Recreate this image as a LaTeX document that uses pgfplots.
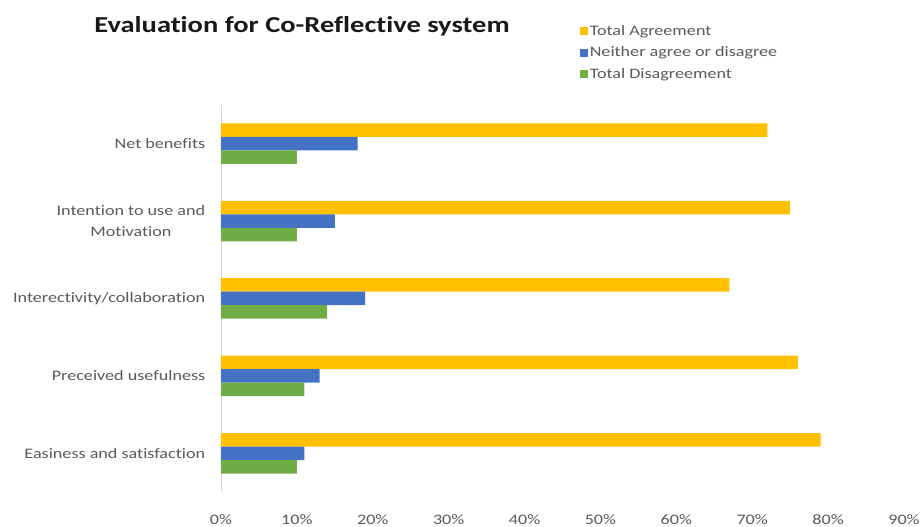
\documentclass[border=0pt]{standalone}
\usepackage{pgfplots}
\pgfplotsset{compat=1.18}
\usepackage{fontspec}
\setmainfont{Carlito}[FakeStretch=1.25, RawFeature=-liga]
\definecolor{cYel}{HTML}{FFC000}
\definecolor{cBlu}{HTML}{4472C4}
\definecolor{cGrn}{HTML}{70AD47}
\definecolor{cTxt}{HTML}{595959}
\definecolor{cAx}{HTML}{D9D9D9}
\begin{document}
\begin{tikzpicture}[x=1pt,y=1pt]
\useasboundingbox (0,0) rectangle (921,527);
\node[font=\fontsize{22.8}{26}\selectfont\bfseries, anchor=center, text=black!90] at (302,501) {Evaluation for Co-Reflective system};
\begin{axis}[
  at={(221pt,35pt)}, anchor=south west,
  scale only axis, width=683pt, height=387pt,
  xbar, bar width=13.5pt,
  xmin=0, xmax=90, ymin=-0.5, ymax=4.5,
  axis lines*=left,
  x axis line style={draw=none},
  y axis line style={draw=cAx, line width=0.8pt},
  xtick={0,10,...,90},
  xticklabel={\pgfmathprintnumber{\tick}\%},
  xtick style={draw=none},
  xticklabel style={font=\fontsize{14.5}{16}\selectfont, text=cTxt},
  xticklabel shift=19pt,
  ytick={0,1,2,3,4},
  yticklabels={Easiness and satisfaction, Preceived usefulness, Interectivity/collaboration, {Intention to use and\\Motivation}, Net benefits},
  yticklabel style={font=\fontsize{14.5}{21}\selectfont, text=cTxt, align=center},
  ytick style={draw=none},
  yticklabel shift=8pt,
  extra y ticks={-0.5,0.5,1.5,2.5,3.5,4.5},
  extra y tick labels={},
  extra y tick style={tick style={draw=cAx, line width=0.8pt}, major tick length=5pt, tick align=outside},
  /pgf/number format/assume math mode=true,
  legend style={at={(0.525,1.212)}, anchor=north west, draw=none, fill=none,
    font=\fontsize{14.5}{16}\selectfont, text=cTxt, row sep=6pt,
    inner sep=0pt, cells={anchor=west}},
  legend image code/.code={\fill[#1, draw=none] (0pt,-4pt) rectangle (8pt,4pt);},
  enlargelimits=false, clip=false,
]
\addplot[fill=cYel, draw=none, bar shift=13.5pt] coordinates {(79,0) (76,1) (67,2) (75,3) (72,4)};
\addplot[fill=cBlu, draw=none, bar shift=0pt] coordinates {(11,0) (13,1) (19,2) (15,3) (18,4)};
\addplot[fill=cGrn, draw=none, bar shift=-13.5pt] coordinates {(10,0) (11,1) (14,2) (10,3) (10,4)};
\legend{Total Agreement, Neither agree or disagree, Total Disagreement}
\end{axis}
\end{tikzpicture}
\end{document}
